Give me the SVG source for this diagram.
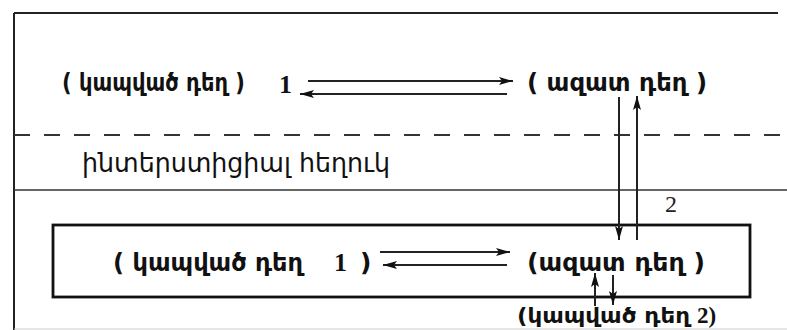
<svg xmlns="http://www.w3.org/2000/svg" width="787" height="330" viewBox="0 0 787 330">
<defs>
<style>
.ln{stroke:#222;stroke-width:2;fill:none}
.arm{font-family:"DejaVu Sans","Noto Sans",sans-serif;font-weight:bold;font-size:25px;fill:#111}
.arms{font-family:"DejaVu Sans","Noto Sans",sans-serif;font-weight:bold;font-size:22px;fill:#111}
.armn{font-family:"DejaVu Sans","Noto Sans",sans-serif;font-size:26px;fill:#111}
.num{font-family:"Liberation Serif",serif;font-weight:bold;font-size:26px;fill:#111}
.nums{font-family:"Liberation Serif",serif;font-weight:bold;font-size:23px;fill:#111}
.numr{font-family:"Liberation Serif",serif;font-size:24px;fill:#222}
</style>
<marker id="ah" viewBox="0 0 14 8" refX="14" refY="4" markerWidth="14" markerHeight="8" markerUnits="userSpaceOnUse" orient="auto">
<path d="M0,0 L14,4 L0,8 L3,4 Z" fill="#111"/>
</marker>
</defs>
<rect width="787" height="330" fill="#fff"/>
<g id="frame">
<line class="ln" x1="14" y1="13" x2="778" y2="13"/>
<line class="ln" x1="14" y1="13" x2="14" y2="330"/>
<line x1="14" y1="329" x2="787" y2="329" stroke="#ccc" stroke-width="1"/>
<line x1="14" y1="135" x2="787" y2="135" stroke="#333" stroke-width="2.2" stroke-dasharray="16,14"/>
<line x1="14" y1="190" x2="787" y2="190" stroke="#333" stroke-width="1.5"/>
</g>
<g id="inner-box">
<rect x="53" y="225" width="697" height="72" fill="none" stroke="#111" stroke-width="2.8"/>
</g>
<g id="n-bound1">
<text class="arm" x="62" y="91" textLength="183" lengthAdjust="spacingAndGlyphs">( կապված դեղ )</text>
<text class="num" x="279" y="93">1</text>
</g>
<g id="n-free1">
<text class="arm" x="527" y="91" textLength="180" lengthAdjust="spacingAndGlyphs">( ազատ  դեղ )</text>
</g>
<g id="n-interstitial">
<text class="armn" x="82" y="172" textLength="308" lengthAdjust="spacingAndGlyphs">ինտերստիցիալ հեղուկ</text>
</g>
<g id="n-bound-inner">
<text class="arm" x="113" y="271" textLength="190" lengthAdjust="spacingAndGlyphs">( կապված դեղ</text>
<text class="num" x="334" y="271">1</text>
<text class="arm" x="360" y="271">)</text>
</g>
<g id="n-free2">
<text class="arm" x="527" y="271" textLength="178" lengthAdjust="spacingAndGlyphs">(ազատ  դեղ )</text>
</g>
<g id="n-bound2">
<text class="arms" x="517" y="323" textLength="173" lengthAdjust="spacingAndGlyphs">(կապված դեղ</text>
<text class="nums" x="697" y="323">2)</text>
</g>
<g id="label-2">
<text class="numr" x="665" y="212">2</text>
</g>
<g id="connectors">
<line class="ln" x1="308" y1="81" x2="513" y2="81" marker-end="url(#ah)"/>
<line class="ln" x1="507" y1="94" x2="300" y2="94" marker-end="url(#ah)"/>
<line class="ln" x1="619" y1="97" x2="619" y2="240" marker-end="url(#ah)"/>
<line class="ln" x1="637" y1="240" x2="637" y2="96" marker-end="url(#ah)"/>
<line class="ln" x1="380" y1="252" x2="510" y2="252" marker-end="url(#ah)"/>
<line class="ln" x1="507" y1="265" x2="383" y2="265" marker-end="url(#ah)"/>
<line class="ln" x1="595" y1="306" x2="595" y2="273" marker-end="url(#ah)"/>
<line class="ln" x1="613" y1="275" x2="613" y2="305" marker-end="url(#ah)"/>
</g>
</svg>
